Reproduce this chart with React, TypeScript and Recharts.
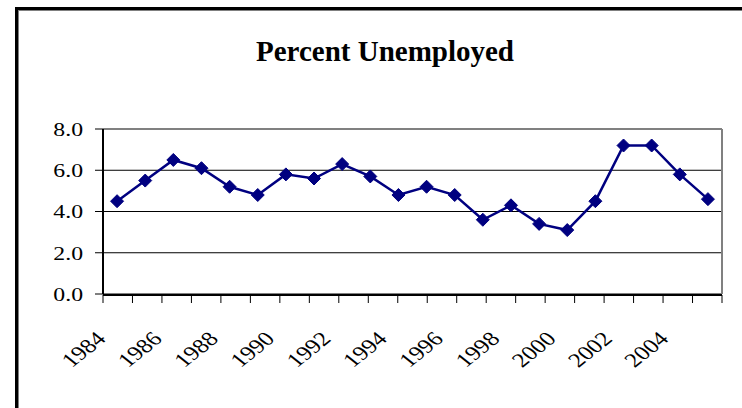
import React from 'react';
import { LineChart, Line, XAxis, YAxis, CartesianGrid } from 'recharts';

const years = [
  '1984', '1985', '1986', '1987', '1988', '1989', '1990', '1991', '1992', '1993', '1994',
  '1995', '1996', '1997', '1998', '1999', '2000', '2001', '2002', '2003', '2004', '2005',
];
const unemployment = [
  4.5, 5.5, 6.5, 6.1, 5.2, 4.8, 5.8, 5.6, 6.3, 5.7, 4.8,
  5.2, 4.8, 3.6, 4.3, 3.4, 3.1, 4.5, 7.2, 7.2, 5.8, 4.6,
];
const yTicks = [0, 2, 4, 6, 8];

const data = years.map((year, i) => ({ year, rate: unemployment[i] }));
// tick marks sit between categories, like the spreadsheet original
const boundaryTicks = Array.from({ length: years.length + 1 }, (_, i) => i);

const FONT = '"Liberation Serif", "Times New Roman", serif';
const NAVY = '#000080';
const PLOT_W = 619;
const HALF_BAND = PLOT_W / years.length / 2;
// the source picture is a little wider than tall, so axis text is stretched
const STRETCH = 1.25;

const Diamond = (props: any) => {
  const { cx, cy } = props;
  if (cx == null || cy == null) return null;
  const r = 6.5;
  return (
    <polygon
      points={`${cx},${cy - r} ${cx + r},${cy} ${cx},${cy + r} ${cx - r},${cy}`}
      fill={NAVY}
      stroke={NAVY}
      strokeWidth={1}
    />
  );
};

const YearTick = (props: any) => {
  const { x, y, payload, index } = props;
  if (index % 2 !== 0) return <g />;
  const ax = x - 10;
  const ay = y + 38;
  return (
    <text
      x={0}
      y={0}
      textAnchor="end"
      transform={`translate(${ax},${ay}) scale(${STRETCH},1) rotate(-45)`}
      style={{ fontFamily: FONT, fontSize: 20 }}
      fill="#000"
    >
      {payload.value}
    </text>
  );
};

const ValueTick = (props: any) => {
  const { x, y, payload } = props;
  return (
    <text
      x={0}
      y={0}
      dy="0.355em"
      textAnchor="end"
      transform={`translate(${x},${y}) scale(${STRETCH},1)`}
      style={{ fontFamily: FONT, fontSize: 19 }}
      fill="#000"
    >
      {Number(payload.value).toFixed(1)}
    </text>
  );
};

export default function App() {
  return (
    <div
      style={{
        position: 'fixed',
        left: 0,
        top: 0,
        width: 742,
        height: 408,
        overflow: 'hidden',
        background: '#fff',
        fontFamily: FONT,
      }}
    >
      <div
        style={{
          position: 'absolute',
          left: 15,
          top: 7,
          width: 800,
          height: 500,
          border: '3px solid #000',
          boxShadow: 'inset 1px 1px 0 #808080',
        }}
      />
      <div
        style={{
          position: 'absolute',
          left: 0,
          top: 37,
          width: 770,
          textAlign: 'center',
          fontWeight: 'bold',
          fontSize: 29,
          lineHeight: '29px',
          color: '#000',
        }}
      >
        Percent Unemployed
      </div>
      <div style={{ position: 'absolute', left: 0, top: 0 }}>
        <LineChart
          width={742}
          height={408}
          data={data}
          margin={{ top: 128, right: 19, left: 43, bottom: 112 }}
        >
          <CartesianGrid vertical={false} stroke="#000" strokeWidth={1} />
          <XAxis
            xAxisId="top"
            orientation="top"
            type="number"
            domain={[0, 1]}
            height={1}
            tick={false}
            tickLine={false}
            axisLine={{ stroke: '#808080', strokeWidth: 2 }}
          />
          <XAxis
            xAxisId="ticks"
            type="number"
            domain={[0, years.length]}
            ticks={boundaryTicks}
            interval={0}
            height={1}
            tickSize={8}
            tickFormatter={() => ''}
            tickLine={{ stroke: '#000' }}
            axisLine={{ stroke: '#000', strokeWidth: 2 }}
          />
          <XAxis
            dataKey="year"
            height={1}
            interval={0}
            padding={{ left: HALF_BAND, right: HALF_BAND }}
            axisLine={false}
            tickLine={false}
            tick={<YearTick />}
          />
          <YAxis
            domain={[0, 8]}
            ticks={yTicks}
            width={60}
            tickSize={8}
            tickMargin={12}
            tick={<ValueTick />}
            tickLine={{ stroke: '#000' }}
            axisLine={{ stroke: '#000', strokeWidth: 2 }}
          />
          <YAxis
            yAxisId="right"
            orientation="right"
            domain={[0, 8]}
            width={1}
            tick={false}
            tickLine={false}
            axisLine={{ stroke: '#808080', strokeWidth: 2 }}
          />
          <Line
            type="linear"
            dataKey="rate"
            stroke={NAVY}
            strokeWidth={2.5}
            dot={<Diamond />}
            activeDot={false}
            isAnimationActive={false}
          />
        </LineChart>
      </div>
    </div>
  );
}
